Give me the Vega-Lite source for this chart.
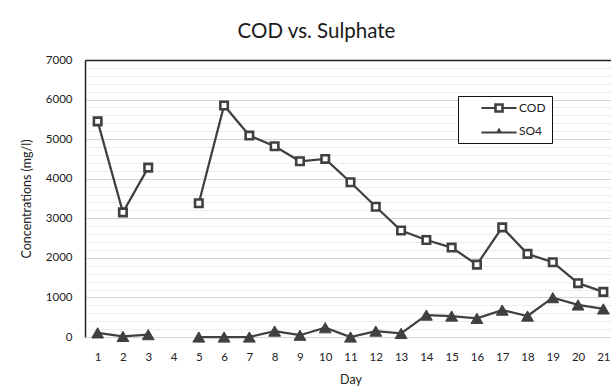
{
  "$schema": "https://vega.github.io/schema/vega-lite/v6.json",
  "width": 531,
  "height": 277,
  "autosize": {"type": "none"},
  "padding": {"left": 85, "top": 60, "right": 0, "bottom": 52},
  "background": "white",
  "title": {
    "text": "COD vs. Sulphate",
    "font": "Lato",
    "fontSize": 20.5,
    "fontWeight": "normal",
    "color": "#1a1a1a",
    "anchor": "middle",
    "baseline": "alphabetic",
    "offset": -4,
    "dx": -34
  },
  "config": {
    "view": {"stroke": null},
    "font": "Lato",
    "legend": {"labelFont": "Lato"}
  },
  "data": {
    "values": [
      {"day": 1, "series": "COD", "value": 5450},
      {"day": 2, "series": "COD", "value": 3150},
      {"day": 3, "series": "COD", "value": 4280},
      {"day": 4, "series": "COD", "value": null},
      {"day": 5, "series": "COD", "value": 3380},
      {"day": 6, "series": "COD", "value": 5850},
      {"day": 7, "series": "COD", "value": 5090},
      {"day": 8, "series": "COD", "value": 4820},
      {"day": 9, "series": "COD", "value": 4440},
      {"day": 10, "series": "COD", "value": 4500},
      {"day": 11, "series": "COD", "value": 3910},
      {"day": 12, "series": "COD", "value": 3290},
      {"day": 13, "series": "COD", "value": 2690},
      {"day": 14, "series": "COD", "value": 2450},
      {"day": 15, "series": "COD", "value": 2260},
      {"day": 16, "series": "COD", "value": 1830},
      {"day": 17, "series": "COD", "value": 2770},
      {"day": 18, "series": "COD", "value": 2100},
      {"day": 19, "series": "COD", "value": 1890},
      {"day": 20, "series": "COD", "value": 1360},
      {"day": 21, "series": "COD", "value": 1140},
      {"day": 1, "series": "SO4", "value": 105},
      {"day": 2, "series": "SO4", "value": 15},
      {"day": 3, "series": "SO4", "value": 60},
      {"day": 4, "series": "SO4", "value": null},
      {"day": 5, "series": "SO4", "value": 0},
      {"day": 6, "series": "SO4", "value": 0},
      {"day": 7, "series": "SO4", "value": 0},
      {"day": 8, "series": "SO4", "value": 150},
      {"day": 9, "series": "SO4", "value": 45},
      {"day": 10, "series": "SO4", "value": 235},
      {"day": 11, "series": "SO4", "value": 0},
      {"day": 12, "series": "SO4", "value": 150},
      {"day": 13, "series": "SO4", "value": 90},
      {"day": 14, "series": "SO4", "value": 555},
      {"day": 15, "series": "SO4", "value": 530},
      {"day": 16, "series": "SO4", "value": 470},
      {"day": 17, "series": "SO4", "value": 680},
      {"day": 18, "series": "SO4", "value": 530},
      {"day": 19, "series": "SO4", "value": 995},
      {"day": 20, "series": "SO4", "value": 810},
      {"day": 21, "series": "SO4", "value": 710}
    ]
  },
  "encoding": {
    "x": {
      "field": "day",
      "type": "ordinal",
      "scale": {"type": "point", "padding": 0.5, "domain": [1,2,3,4,5,6,7,8,9,10,11,12,13,14,15,16,17,18,19,20,21]}
    },
    "y": {
      "field": "value",
      "type": "quantitative",
      "scale": {"domain": [0, 7000], "nice": false, "zero": true}
    }
  },
  "layer": [
    {
      "mark": {"type": "line", "color": "#404040", "strokeWidth": 2.25, "invalid": "break-paths-show-domains"},
      "encoding": {
        "detail": {"field": "series"},
        "x": {
          "field": "day",
          "type": "ordinal",
          "axis": {
            "orient": "bottom",
            "title": "Day",
            "titleFont": "Lato",
            "titleFontSize": 12.5,
            "titleFontWeight": "normal",
            "titleColor": "#222",
            "titlePadding": 11,
            "labelAngle": 0,
            "labelFont": "Lato",
            "labelFontSize": 11.5,
            "labelColor": "#222",
            "labelPadding": 14,
            "ticks": false,
            "domain": false,
            "grid": false
          }
        },
        "y": {
          "field": "value",
          "type": "quantitative",
          "axis": {
            "title": "Concentrations (mg/l)",
            "titleFont": "Lato",
            "titleFontSize": 12.5,
            "titleFontWeight": "normal",
            "titleColor": "#222",
            "titlePadding": 12,
            "values": [0,200,400,600,800,1000,1200,1400,1600,1800,2000,2200,2400,2600,2800,3000,3200,3400,3600,3800,4000,4200,4400,4600,4800,5000,5200,5400,5600,5800,6000,6200,6400,6600,6800,7000],
            "tickCount": 100,
            "labelExpr": "datum.value % 1000 === 0 ? datum.label : ''",
            "labelOverlap": false,
            "labelBound": false,
            "format": "d",
            "labelFont": "Lato",
            "labelFontSize": 11.5,
            "labelColor": "#222",
            "labelPadding": 13,
            "ticks": false,
            "domain": true,
            "domainColor": "#222",
            "domainWidth": 1.5,
            "grid": true,
            "gridWidth": 1,
            "gridColor": {"condition": {"test": "datum.value % 1000 === 0", "value": "#d4d4d4"}, "value": "#ededed"}
          }
        }
      }
    },
    {
      "transform": [{"filter": "datum.series === 'COD'"}],
      "mark": {"type": "point", "shape": "square", "filled": false, "fill": "white", "opacity": 1, "stroke": "#404040", "strokeWidth": 2.6, "size": 56},
      "encoding": {
        "x": {
          "field": "day",
          "type": "ordinal",
          "axis": {
            "orient": "top",
            "title": null,
            "labels": false,
            "ticks": false,
            "grid": false,
            "domain": true,
            "domainColor": "#222",
            "domainWidth": 1.5
          }
        }
      }
    },
    {
      "transform": [{"filter": "datum.series === 'SO4'"}],
      "mark": {"type": "point", "shape": "triangle-up", "filled": true, "fill": "#404040", "opacity": 1, "stroke": "#404040", "strokeWidth": 1, "size": 140},
      "encoding": {
        "x": {"field": "day", "type": "ordinal", "axis": null}
      }
    },
    {
      "mark": {"type": "point", "filled": true, "opacity": 0, "size": 64},
      "encoding": {
        "x": {"field": "day", "type": "ordinal", "axis": null},
        "shape": {
          "field": "series",
          "type": "nominal",
          "scale": {
            "domain": ["COD", "SO4"],
            "range": [
              "M-4.4,-0.25H-1.1V0.25H-4.4ZM1.1,-0.25H4.4V0.25H1.1ZM-1.2,-1.2H1.2V1.2H-1.2ZM-0.55,-0.55V0.55H0.55V-0.55Z",
              "M-4.4,0.1H4.4V0.6H-4.4ZM-0.85,0.65L0,-0.85L0.85,0.65Z"
            ]
          },
          "legend": {
            "title": null,
            "orient": "none",
            "legendX": 373,
            "legendY": 36,
            "direction": "vertical",
            "strokeColor": "#111",
            "fillColor": "white",
            "padding": 6,
            "rowPadding": 11,
            "symbolSize": 64,
            "symbolOffset": 29,
            "symbolOpacity": 1,
            "symbolStrokeWidth": 0,
            "labelOffset": 14,
            "labelFont": "Lato",
            "labelFontSize": 12,
            "labelColor": "#222",
            "labelExpr": "datum.label + '\u00a0\u00a0\u00a0\u00a0\u00a0'"
          }
        },
        "fill": {
          "field": "series",
          "type": "nominal",
          "scale": {"domain": ["COD", "SO4"], "range": ["#404040", "#404040"]}
        }
      }
    }
  ],
  "resolve": {"axis": {"x": "independent"}}
}
